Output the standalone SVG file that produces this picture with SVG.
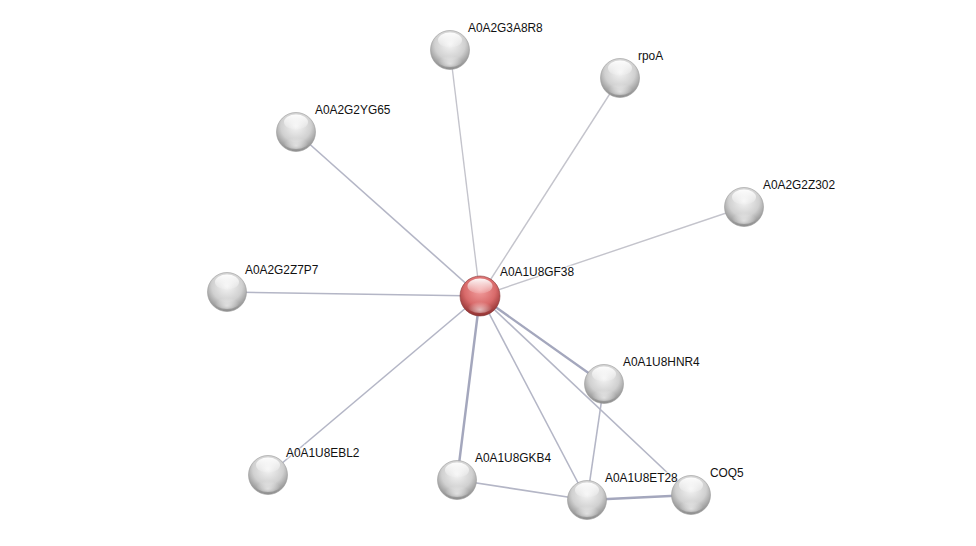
<svg xmlns="http://www.w3.org/2000/svg" width="976" height="546" viewBox="0 0 976 546">
<style>
.e{stroke:#b4b6c6;stroke-width:1.6;fill:none}
.e2{stroke:#a4a7bd;stroke-width:2.4;fill:none}
.e3{stroke:#c4c4cc;stroke-width:1.4;fill:none}
text{font-family:"Liberation Sans",Arial,sans-serif;font-size:11.9px;fill:#111;stroke:#fff;stroke-width:3px;stroke-opacity:0.6;paint-order:stroke}
</style>
<defs>
<radialGradient id="g" cx="50%" cy="35%" r="65%">
<stop offset="0" stop-color="#f4f4f4"/>
<stop offset="0.6" stop-color="#d0d0d0"/>
<stop offset="1" stop-color="#8a8a8a"/>
</radialGradient>
<radialGradient id="r" cx="50%" cy="35%" r="65%">
<stop offset="0" stop-color="#f3a0a0"/>
<stop offset="0.6" stop-color="#d86a6a"/>
<stop offset="1" stop-color="#8f3030"/>
</radialGradient>
<linearGradient id="hl" x1="0" y1="0" x2="0" y2="1">
<stop offset="0" stop-color="#fff" stop-opacity="0.95"/>
<stop offset="1" stop-color="#fff" stop-opacity="0.1"/>
</linearGradient>
<radialGradient id="bl" cx="50%" cy="80%" r="50%">
<stop offset="0" stop-color="#fff" stop-opacity="0.6"/>
<stop offset="1" stop-color="#fff" stop-opacity="0"/>
</radialGradient>
<g id="ball">
<circle r="19.5" fill="url(#g)" stroke="#9a9a9a" stroke-width="0.6"/>
<ellipse cy="-10" rx="12" ry="7.5" fill="url(#hl)"/>
<ellipse cy="9" rx="13" ry="8" fill="url(#bl)"/>
</g>
<g id="rball">
<circle r="20" fill="url(#r)" stroke="#8a3a3a" stroke-width="0.6"/>
<ellipse cy="-10" rx="12.5" ry="7.5" fill="url(#hl)"/>
<ellipse cy="9" rx="13" ry="8" fill="url(#bl)"/>
</g>
</defs>
<rect width="976" height="546" fill="#fff"/>
<g id="connectors">
<line class="e3" x1="480" y1="296" x2="450" y2="50"/>
<line class="e3" x1="480" y1="296" x2="620" y2="78"/>
<line class="e" x1="480" y1="296" x2="296" y2="132"/>
<line class="e3" x1="480" y1="296" x2="744" y2="207"/>
<line class="e" x1="480" y1="296" x2="227" y2="292"/>
<line class="e" x1="480" y1="296" x2="268" y2="475"/>
<line class="e2" x1="480" y1="296" x2="457" y2="480"/>
<line class="e" x1="480" y1="296" x2="587" y2="500"/>
<line class="e2" x1="480" y1="296" x2="604" y2="384"/>
<line class="e" x1="480" y1="296" x2="691" y2="495"/>
<line class="e" x1="604" y1="384" x2="587" y2="500"/>
<line class="e" x1="457" y1="480" x2="587" y2="500"/>
<line class="e2" x1="587" y1="500" x2="691" y2="495"/>
</g>
<g id="A0A2G3A8R8"><use href="#ball" x="450" y="50"/><text x="468" y="32">A0A2G3A8R8</text></g>
<g id="rpoA"><use href="#ball" x="620" y="78"/><text x="638" y="60">rpoA</text></g>
<g id="A0A2G2YG65"><use href="#ball" x="296" y="132"/><text x="315" y="114">A0A2G2YG65</text></g>
<g id="A0A2G2Z302"><use href="#ball" x="744" y="207"/><text x="763" y="189">A0A2G2Z302</text></g>
<g id="A0A2G2Z7P7"><use href="#ball" x="227" y="292"/><text x="245" y="274">A0A2G2Z7P7</text></g>
<g id="A0A1U8HNR4"><use href="#ball" x="604" y="384"/><text x="623" y="366">A0A1U8HNR4</text></g>
<g id="A0A1U8EBL2"><use href="#ball" x="268" y="475"/><text x="286" y="457">A0A1U8EBL2</text></g>
<g id="A0A1U8GKB4"><use href="#ball" x="457" y="480"/><text x="475" y="462">A0A1U8GKB4</text></g>
<g id="A0A1U8ET28"><use href="#ball" x="587" y="500"/><text x="605" y="482">A0A1U8ET28</text></g>
<g id="COQ5"><use href="#ball" x="691" y="495"/><text x="710" y="477">COQ5</text></g>
<g id="A0A1U8GF38"><use href="#rball" x="480" y="296"/><text x="500" y="276">A0A1U8GF38</text></g>
</svg>
